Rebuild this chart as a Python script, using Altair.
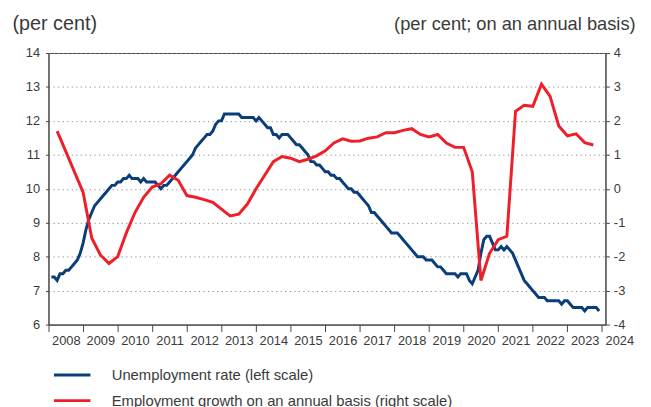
import altair as alt
import pandas as pd

# Unemployment rate, monthly, Jan 2008 - Nov 2023 (per cent, left scale)
unemployment = [
    7.4, 7.4, 7.3, 7.5, 7.5, 7.6, 7.6, 7.7, 7.8, 7.9, 8.1, 8.4,
    8.8, 9.1, 9.3, 9.5, 9.6, 9.7, 9.8, 9.9, 10.0, 10.1, 10.1, 10.2,
    10.2, 10.3, 10.3, 10.4, 10.3, 10.3, 10.3, 10.2, 10.3, 10.2, 10.2, 10.2,
    10.2, 10.1, 10.0, 10.1, 10.1, 10.2, 10.3, 10.4, 10.5, 10.6, 10.7, 10.8,
    10.9, 11.0, 11.2, 11.3, 11.4, 11.5, 11.6, 11.6, 11.7, 11.9, 12.0, 12.0,
    12.2, 12.2, 12.2, 12.2, 12.2, 12.2, 12.1, 12.1, 12.1, 12.1, 12.1, 12.0,
    12.1, 12.0, 11.9, 11.8, 11.8, 11.6, 11.6, 11.5, 11.6, 11.6, 11.6, 11.5,
    11.4, 11.3, 11.3, 11.2, 11.1, 11.0, 10.8, 10.8, 10.7, 10.7, 10.6, 10.5,
    10.5, 10.4, 10.4, 10.3, 10.3, 10.2, 10.1, 10.0, 10.0, 9.9, 9.9, 9.8,
    9.7, 9.6, 9.5, 9.3, 9.3, 9.2, 9.1, 9.0, 8.9, 8.8, 8.7, 8.7,
    8.7, 8.6, 8.5, 8.4, 8.3, 8.2, 8.1, 8.0, 8.0, 8.0, 7.9, 7.9,
    7.9, 7.8, 7.7, 7.7, 7.6, 7.5, 7.5, 7.5, 7.5, 7.4, 7.5, 7.5,
    7.5, 7.3, 7.2, 7.4, 7.6, 8.1, 8.5, 8.6, 8.6, 8.4, 8.2, 8.2,
    8.3, 8.2, 8.3, 8.2, 8.1, 7.9, 7.7, 7.5, 7.3, 7.2, 7.1, 7.0,
    6.9, 6.8, 6.8, 6.8, 6.7, 6.7, 6.7, 6.7, 6.7, 6.6, 6.7, 6.7,
    6.6, 6.5, 6.5, 6.5, 6.5, 6.4, 6.5, 6.5, 6.5, 6.5, 6.4,
]

# Employment growth on an annual basis, quarterly, Q1 2008 - Q3 2023 (right scale)
growth = [
    1.7, 1.1, 0.5, -0.1,
    -1.45, -1.95, -2.2, -2.0,
    -1.3, -0.7, -0.25, 0.05,
    0.15, 0.4, 0.25, -0.2,
    -0.25, -0.32, -0.4, -0.6,
    -0.8, -0.75, -0.45, 0.0,
    0.4, 0.8, 0.95, 0.9,
    0.8, 0.87, 0.97, 1.12,
    1.35, 1.47, 1.4, 1.41,
    1.49, 1.53, 1.65, 1.65,
    1.72, 1.77, 1.6, 1.53,
    1.6, 1.35, 1.22, 1.22,
    0.5, -2.7, -1.9, -1.5,
    -1.4, 2.28, 2.46, 2.43,
    3.08, 2.72, 1.85, 1.56,
    1.62, 1.36, 1.29,
]

series_names = [
    "Unemployment rate (left scale)",
    "Employment growth on an annual basis (right scale)",
]
series_colors = ["#0a3e7a", "#ee1f2a"]
year_ticks = list(range(2008, 2025))
left_ticks = list(range(6, 15))
right_ticks = list(range(-4, 5))

FONT = "Liberation Sans"
TXT = "#3a3a3a"

blue_df = pd.DataFrame({
    "t": [2008 + (i + 1) / 12 for i in range(len(unemployment))],
    "v": unemployment,
    "s": series_names[0],
})
red_df = pd.DataFrame({
    "t": [2008 + (i + 1) / 4 for i in range(len(growth))],
    "g": growth,
    "s": series_names[1],
})

x_enc = alt.X(
    "t:Q",
    scale=alt.Scale(domain=[2008, 2024.1], nice=False, zero=False),
    axis=alt.Axis(
        values=year_ticks, format="d", labelOffset=17.5, labelFlush=False,
        labelOverlap=False, tickSize=7, grid=False, title=None,
        labelPadding=3, labelFontSize=13,
    ),
)

color_enc = alt.Color(
    "s:N",
    scale=alt.Scale(domain=series_names, range=series_colors),
    legend=alt.Legend(
        orient="none", legendX=16, legendY=318, direction="vertical", title=None,
        symbolType="M-3,0H3", symbolSize=152, symbolStrokeWidth=3,
        labelFontSize=15, labelFont=FONT, labelColor=TXT, labelOffset=32,
        rowPadding=10, padding=0, labelLimit=600,
    ),
)

blue = alt.Chart(blue_df).mark_line(strokeWidth=3).encode(
    x=x_enc,
    y=alt.Y(
        "v:Q",
        scale=alt.Scale(domain=[6, 14], nice=False, zero=False),
        axis=alt.Axis(
            values=left_ticks, grid=True, gridDash=[1.2, 3.4], gridColor="#8a8a8a",
            tickSize=3, labelPadding=6, labelFontSize=13,
            title="(per cent)", titleAngle=0, titleAlign="left",
            titleBaseline="alphabetic", titleX=-37, titleY=-24, titleFontSize=20,
        ),
    ),
    color=color_enc,
)

red = alt.Chart(red_df).mark_line(strokeWidth=3).encode(
    x=x_enc,
    y=alt.Y(
        "g:Q",
        scale=alt.Scale(domain=[-4, 4], nice=False, zero=False),
        axis=alt.Axis(
            orient="right", values=right_ticks, grid=False, tickSize=4,
            labelPadding=4, labelFontSize=13, labelExpr="datum.value + ''",
            title="(per cent; on an annual basis)", titleAngle=0,
            titleAlign="right", titleBaseline="alphabetic", titleX=30, titleY=-24,
            titleFontSize=18.5,
        ),
    ),
    color=color_enc,
)

chart = (
    alt.layer(blue, red)
    .resolve_scale(y="independent")
    .properties(
        width=564, height=275,
        autosize=alt.AutoSizeParams(type="none"),
        padding={"left": 41, "top": 43, "right": 38, "bottom": 88},
        background="white",
    )
    .configure_view(stroke="#444444", strokeWidth=1)
    .configure_axis(
        labelFont=FONT, labelColor=TXT, titleFont=FONT, titleColor=TXT,
        titleFontWeight="normal",
        domainColor="#444444", tickColor="#444444",
    )
)

chart.save("out.html", embed_options={"renderer": "svg", "actions": False})
